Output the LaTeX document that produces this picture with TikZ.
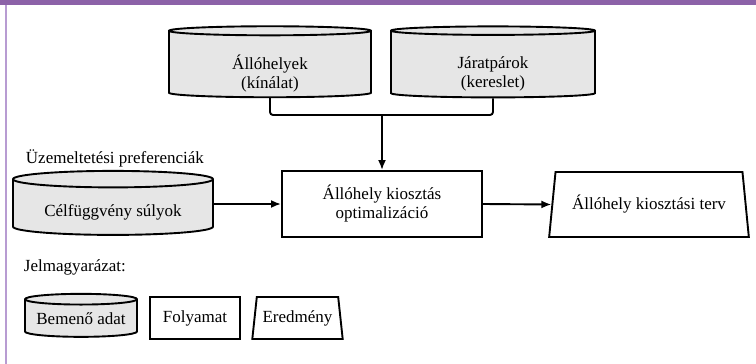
\documentclass[tikz,border=0pt]{standalone}
\usepackage{fontspec}
\setmainfont{Liberation Serif}
\usetikzlibrary{shapes.geometric,arrows.meta,positioning}
\definecolor{lila}{RGB}{140,98,168}
\definecolor{lilavil}{RGB}{184,156,210}
\definecolor{adatszurke}{RGB}{230,230,230}
%% text lowered inside a cylinder, its box kept
\newcommand\lejjebb[2]{\raisebox{-#1}[\height][\depth]{\begin{tabular}{@{}c@{}}#2\end{tabular}}}
\begin{document}
\begin{tikzpicture}[x=1pt,y=-1pt,line width=1.9pt,
    font=\fontsize{17}{19}\selectfont,
    adat/.style={cylinder,shape border rotate=90,aspect=0.12,draw,cylinder uses custom fill,cylinder body fill=adatszurke,cylinder end fill=adatszurke,inner sep=0pt},
    folyamat/.style={rectangle,draw,fill=white,inner sep=0pt,align=center},
    eredmeny/.style={trapezium,trapezium stretches=true,draw,fill=white,inner sep=0pt,align=center},
    felirat/.style={anchor=west,inner sep=0pt},
    nyil/.style={-{Latex[length=10pt,width=8pt]}}]
                \useasboundingbox (0,0) rectangle (756,364);
                %% frame
                \fill[lila] (0,0) rectangle (756,5);
                \fill[lilavil] (5,5) rectangle (7,364);
                %% input data
                \node[adat,minimum width=202pt,minimum height=71pt] (kinalat) at (270,64.5) {\lejjebb{10pt}{Állóhelyek\\(kínálat)}};
                \node[adat,minimum width=204pt,minimum height=71pt] (kereslet) at (493,64.5) {\lejjebb{10pt}{Járatpárok\\(kereslet)}};
                \node[felirat] (pref) at (25,158) {Üzemeltetési preferenciák};
                \node[adat,minimum width=200pt,minimum height=64pt] (sulyok) at (113,207.5) {\lejjebb{5pt}{Célfüggvény súlyok}};
                %% process and result
                \node[folyamat,minimum width=200pt,minimum height=66pt] (opt) at (382,204) {Állóhely kiosztás\\optimalizáció};
                \node[eredmeny,trapezium left angle=74,trapezium right angle=74,minimum width=200pt,minimum height=65pt] (terv) at (649,204.5) {Állóhely kiosztási terv};
                %% connectors
                \coordinate (gyujto) at (opt.north |- 0,115);
                \draw[rounded corners=3pt] (kinalat.south) |- (gyujto) -| (kereslet.south);
                \draw[nyil] (gyujto) -- (opt.north);
                \draw[nyil] (opt.west -| sulyok.east) -- (opt.west);
                \draw[nyil] (opt.east) -- (terv.west);
                %% legend
                \node[felirat] (jel) at (23,267) {Jelmagyarázat:};
                \node[adat,minimum width=112pt,minimum height=43pt] (ladat) at (81,318.5) {\lejjebb{2pt}{Bemenő adat}};
                \node[folyamat,minimum width=90pt,minimum height=42pt] (lfolyamat) at (195,318) {Folyamat};
                \node[eredmeny,trapezium left angle=76,trapezium right angle=76,minimum width=91pt,minimum height=42pt] (leredmeny) at (297.5,318) {Eredmény};
            \end{tikzpicture}
\end{document}
